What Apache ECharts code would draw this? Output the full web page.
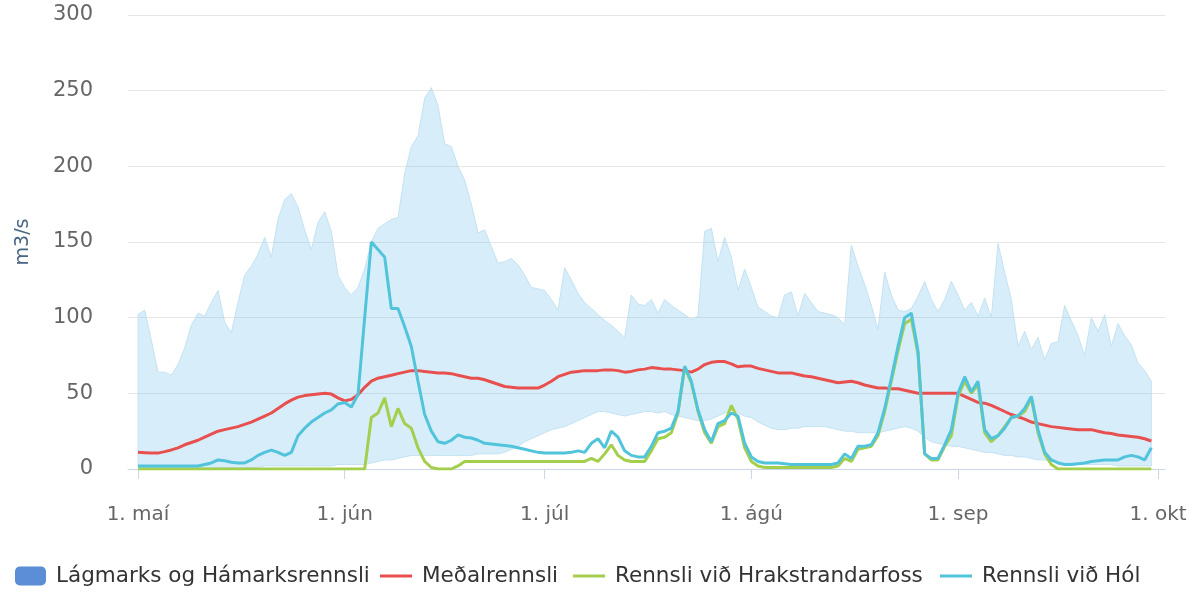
<!DOCTYPE html>
<html><head><meta charset="utf-8">
<script src="https://cdn.jsdelivr.net/npm/echarts@6/dist/echarts.min.js"></script>
<style>html,body{margin:0;padding:0;background:#fff}#c{width:1193px;height:592px}</style>
</head><body><div id="c"></div>
<script>
// Day index 0 = 1. maí
const seriesNames = ['Lágmarks og Hámarksrennsli', 'Meðalrennsli', 'Rennsli við Hrakstrandarfoss', 'Rennsli við Hól'];
const tickDays = [0, 31, 61, 92, 123, 153];
const tickLabels = ['1. maí', '1. jún', '1. júl', '1. ágú', '1. sep', '1. okt'];
const yTicks = [0, 50, 100, 150, 200, 250, 300];

const maxFlow = [
102,105,85,64,64,62,69,80,95,103,
101,110,118,97,90,110,128,134,142,153,
140,165,178,182,173,158,145,163,170,157,
128,120,115,120,132,150,159,162,165,166,
195,213,220,245,252,240,215,213,200,191,
175,156,158,147,136,137,139,135,128,120,
119,118,112,105,133,125,116,110,106,102,
98,95,91,87,115,109,108,112,103,112,
108,105,102,99,101,157,159,137,153,140,
118,132,120,107,104,101,100,115,117,101,
116,110,104,103,102,100,95,148,134,122,
108,92,130,115,105,104,106,114,124,112,
104,112,124,115,105,110,101,113,100,149,
130,112,81,91,79,87,72,83,84,108,
98,88,75,100,91,102,81,96,88,82,
70,65,58];

const minFlow = [
1,1,1,1,1,1,1,1,1,1,
1,1,1,1,1,1,1,1,1,2,
2,2,2,2,2,2,2,2,2,2,
3,3,3,3,3,4,5,6,6,7,
8,9,9,9,9,9,9,9,9,9,
9,10,10,10,10,11,13,15,18,20,
22,24,26,27,28,30,32,34,36,38,
38,37,36,35,36,37,38,38,37,38,
36,35,34,33,32,32,33,35,37,39,
37,35,34,31,29,27,26,26,27,27,
28,28,28,28,27,26,25,25,24,24,
24,24,25,26,27,28,27,25,21,18,
17,16,15,15,14,13,12,11,11,10,
9,9,8,8,7,6,6,5,5,4,
4,3,3,3,3,3,3,2,2,2,
2,2,2];

const meanFlow = [
11,10.8,10.6,10.5,11.5,12.6,14,16,17.5,19,
21,23,25,26,27,28,29.5,31,33,35,
37,40,43,45.5,47.5,48.5,49,49.5,50,49.5,
47,45,46,49,54,58,60,61,62,63,
64,65,65,64.5,64,63.5,63.5,63,62,61,
60,60,59,57.5,56,54.5,54,53.5,53.5,53.5,
53.5,55.5,58,61,62.5,64,64.5,65,65,65,
65.5,65.5,65,64,64.5,65.5,66,67,66.5,66,
66,65.5,65,64,66,69,70.5,71,71,69.5,
67.5,68,68,66.5,65.5,64.5,63.5,63.5,63.5,62.5,
61.5,61,60,59,58,57,57.5,58,57,55.5,
54.5,53.5,53.5,53,53,52,51,50,50,50,
50,50,50,50,48,46,44,43.5,42,40,
38,36,34.5,33,31,30,29,28,27.5,27,
26.5,26,26,26,25,24,23.5,22.5,22,21.5,
21,20,18.5];

const hrakFlow = [
0,0,0,0,0,0,0,0,0,0,
0,0,0,0,0,0,0,0,0,0,
0,0,0,0,0,0,0,0,0,0,
0,0,0,0,0,34,37,47,28,40,
30,27,14,5,1,0,0,0,2,5,
5,5,5,5,5,5,5,5,5,5,
5,5,5,5,5,5,5,5,7,5,
10,16,9,6,5,5,5,12,20,21,
24,37,67,57,38,24,17,28,30,42,
33,14,5,2,1,1,1,1,1,1,
1,1,1,1,1,2,7,5,13,14,
15,22,38,58,78,96,99,76,10,6,
6,15,22,48,58,50,56,24,18,22,
28,34,35,38,47,24,10,3,0,0,
0,0,0,0,0,0,0,0,0,0,
0,0,0];

const holFlow = [
2,2,2,2,2,2,2,2,2,2,
3,4,6,5.5,4.5,4,4,6,9,11,
12.5,11,9,11,22,27,31,34,37,39,
43,44,41,49,100,150,145,140,106,106,
94,81,58,36,25,18,17,19,22.5,21,
20.5,19,17,16.5,16,15.5,15,14,13,12,
11,10.5,10.5,10.5,10.5,11,12,11,17,20,
14,25,21,12,9,8,8,15,24,25,
27,38,68,58,39,26,18,30,32,37,
35,17,8,5,4,4,4,3.5,3,3,
3,3,3,3,3,4,10,7,15,15,
16,24,40,60,81,100,103,78,10,7,
7,16,26,50,61,51,58,26,20,22,
27,34,35,40,48,26,11,6,4,3,
3,3.5,4,5,5.5,6,6,6,8,9,
8,6,14];

const pairs = arr => arr.map((v, i) => [i, v]);

const FONT = 'DejaVu Sans';
const COLORS = {band: '#5b8ed6', mean: '#e8504f', hrak: '#a4cf4c', hol: '#51c4db'};
const chart = echarts.init(document.getElementById('c'), null, {renderer: 'canvas'});

const legendText = {fontFamily: FONT, fontSize: 21.5, color: '#333333', padding: [0, 0, 0, 5]};
const legendCommon = {top: 565, itemWidth: 32, itemHeight: 3, selectedMode: false, textStyle: legendText, padding: 0};

chart.setOption({
  animation: false,
  backgroundColor: '#ffffff',
  grid: {left: 128, right: 28, top: 15, bottom: 123, containLabel: false},
  legend: [
    Object.assign({}, legendCommon, {left: 15, itemWidth: 31, itemHeight: 19,
      data: [{name: seriesNames[0], icon: 'roundRect', itemStyle: {color: COLORS.band, borderWidth: 0}}]}),
    Object.assign({}, legendCommon, {left: 380, data: [{name: seriesNames[1], icon: 'rect', itemStyle: {color: COLORS.mean, borderWidth: 0}}]}),
    Object.assign({}, legendCommon, {left: 573, data: [{name: seriesNames[2], icon: 'rect', itemStyle: {color: COLORS.hrak, borderWidth: 0}}]}),
    Object.assign({}, legendCommon, {left: 940, data: [{name: seriesNames[3], icon: 'rect', itemStyle: {color: COLORS.hol, borderWidth: 0}}]})
  ],
  xAxis: {
    type: 'value',
    min: -1.5,
    max: 154.05,
    splitLine: {show: false},
    axisLine: {show: true, lineStyle: {color: '#ccd6eb', width: 1}},
    axisTick: {show: true, customValues: tickDays, length: 10, lineStyle: {color: '#ccd6eb'}},
    axisLabel: {
      customValues: tickDays,
      margin: 36,
      fontFamily: FONT, fontSize: 20, color: '#666666',
      formatter: v => tickLabels[tickDays.indexOf(Math.round(v))] || ''
    }
  },
  yAxis: {
    type: 'value',
    min: yTicks[0],
    max: yTicks[yTicks.length - 1],
    interval: 50,
    name: 'm3/s',
    nameLocation: 'middle',
    nameGap: 95,
    nameRotate: 90,
    nameTextStyle: {fontFamily: FONT, fontSize: 19, color: '#4a6583'},
    axisLine: {show: false},
    axisTick: {show: false},
    splitLine: {lineStyle: {color: '#e6e6e6', width: 1}},
    axisLabel: {margin: 35, fontFamily: FONT, fontSize: 21, color: '#666666'}
  },
  series: [
    {
      name: seriesNames[0], type: 'custom', silent: true,
      data: [[0, 0]],
      itemStyle: {color: COLORS.band},
      renderItem: (params, api) => {
        const top = maxFlow.map((v, i) => api.coord([i, v]));
        const bot = minFlow.map((v, i) => api.coord([i, v])).reverse();
        return {
          type: 'polygon',
          shape: {points: top.concat(bot)},
          style: {fill: 'rgba(124,200,240,0.3)', stroke: '#c4e2f2', lineWidth: 1}
        };
      }
    },
    {
      name: seriesNames[1], type: 'line', data: pairs(meanFlow), symbol: 'none',
      itemStyle: {color: COLORS.mean}, lineStyle: {color: COLORS.mean, width: 3}
    },
    {
      name: seriesNames[2], type: 'line', data: pairs(hrakFlow), symbol: 'none',
      itemStyle: {color: COLORS.hrak}, lineStyle: {color: COLORS.hrak, width: 3}
    },
    {
      name: seriesNames[3], type: 'line', data: pairs(holFlow), symbol: 'none',
      itemStyle: {color: COLORS.hol}, lineStyle: {color: COLORS.hol, width: 3}
    }
  ]
});
</script>
</body></html>
